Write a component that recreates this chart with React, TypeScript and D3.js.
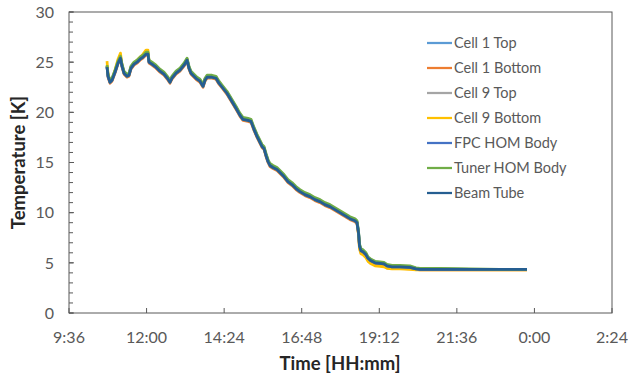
import React from "react";
import * as d3 from "d3";

const W = 628;
const H = 377;

// time in decimal hours (values > 24 mean next day)
const times = [10.776,10.807,10.869,10.930,11.023,11.116,11.193,11.240,11.302,11.394,
11.456,11.518,11.611,11.704,11.797,11.890,11.982,12.044,12.075,12.168,
12.292,12.415,12.539,12.663,12.725,12.787,12.911,13.034,13.158,13.251,
13.313,13.375,13.467,13.560,13.653,13.746,13.808,13.870,14.024,14.148,
14.241,14.365,14.488,14.581,14.674,14.767,14.891,14.983,15.138,15.231,
15.324,15.417,15.509,15.571,15.633,15.695,15.757,15.819,15.912,16.035,
16.128,16.252,16.376,16.499,16.623,16.747,16.902,17.056,17.211,17.366,
17.520,17.675,17.830,17.985,18.139,18.294,18.449,18.510,18.557,18.588,
18.634,18.696,18.789,18.851,18.944,19.067,19.222,19.346,19.439,19.593,
19.841,20.150,20.336,20.460,21.078,22.007,22.935,23.770];

const cell1Top = [24.6,23.7,23.1,23.3,24.1,25.0,25.5,24.7,24.0,23.7,
23.8,24.5,24.9,25.1,25.4,25.6,25.9,25.9,25.1,24.9,
24.6,24.2,23.9,23.4,23.1,23.5,24.0,24.3,24.8,25.3,
24.5,24.0,23.7,23.4,23.2,22.7,23.3,23.6,23.6,23.5,
23.0,22.5,22.0,21.5,21.0,20.5,19.8,19.4,19.3,19.2,
18.4,17.7,17.1,16.7,16.5,15.8,15.2,14.8,14.6,14.4,
14.1,13.7,13.2,12.9,12.5,12.2,11.9,11.7,11.4,11.2,
10.9,10.7,10.4,10.1,9.8,9.5,9.3,9.1,8.1,6.8,
6.3,6.2,5.9,5.5,5.3,5.1,5.0,4.95,4.75,4.65,
4.65,4.6,4.45,4.4,4.4,4.35,4.35,4.35];

const cell1Bottom = [24.6,23.5,22.9,23.1,23.9,24.8,25.3,24.5,23.8,23.5,
23.6,24.3,24.7,24.9,25.2,25.4,25.7,25.7,24.9,24.7,
24.4,24.0,23.7,23.2,22.9,23.3,23.8,24.1,24.6,25.1,
24.3,23.8,23.5,23.2,23.0,22.5,23.1,23.4,23.4,23.3,
22.8,22.3,21.8,21.3,20.8,20.3,19.6,19.2,19.1,19.0,
18.2,17.5,16.9,16.5,16.3,15.6,15.0,14.6,14.4,14.2,
13.9,13.5,13.0,12.7,12.3,12.0,11.7,11.5,11.2,11.0,
10.7,10.5,10.2,9.9,9.6,9.3,9.1,8.9,7.9,6.5,
6.0,5.9,5.6,5.25,5.0,4.8,4.75,4.7,4.5,4.45,
4.45,4.4,4.35,4.3,4.3,4.3,4.3,4.3];

const cell9Top = [24.6,23.7,23.1,23.3,24.1,25.0,25.5,24.7,24.0,23.7,
23.8,24.5,24.9,25.1,25.4,25.6,25.9,25.9,25.1,24.9,
24.6,24.2,23.9,23.4,23.1,23.5,24.0,24.3,24.8,25.3,
24.5,24.0,23.7,23.4,23.2,22.7,23.3,23.6,23.6,23.5,
23.0,22.5,22.0,21.5,21.0,20.5,19.8,19.4,19.3,19.2,
18.4,17.7,17.1,16.7,16.5,15.8,15.2,14.8,14.6,14.4,
14.1,13.7,13.2,12.9,12.5,12.2,11.9,11.7,11.4,11.2,
10.9,10.7,10.4,10.1,9.8,9.5,9.3,9.1,8.1,6.8,
6.3,6.2,5.9,5.5,5.3,5.1,5.0,4.95,4.75,4.65,
4.65,4.6,4.45,4.4,4.4,4.35,4.35,4.35];

const cell9Bottom = [25.1,23.8,23.0,23.2,24.2,25.3,25.9,24.7,23.9,23.6,
23.7,24.5,24.9,25.2,25.5,25.8,26.2,26.2,25.1,24.8,
24.5,24.1,23.8,23.3,23.0,23.4,23.9,24.2,24.8,25.3,
24.4,23.9,23.6,23.3,23.1,22.6,23.2,23.5,23.5,23.4,
22.9,22.4,21.9,21.4,20.9,20.4,19.7,19.3,19.2,19.1,
18.3,17.6,17.0,16.6,16.4,15.7,15.1,14.7,14.5,14.3,
14.0,13.6,13.1,12.8,12.4,12.1,11.8,11.6,11.3,11.1,
10.8,10.6,10.3,10.0,9.7,9.4,9.2,9.0,7.8,6.4,
5.9,5.8,5.5,5.15,4.9,4.7,4.65,4.6,4.45,4.4,
4.4,4.35,4.3,4.3,4.3,4.3,4.3,4.3];

const fpcHomBody = [24.5,23.6,23.0,23.2,24.0,24.9,25.4,24.6,23.9,23.6,
23.7,24.4,24.8,25.0,25.3,25.5,25.8,25.8,25.0,24.8,
24.5,24.1,23.8,23.3,23.0,23.4,23.9,24.2,24.7,25.2,
24.4,23.9,23.6,23.3,23.1,22.6,23.2,23.5,23.5,23.4,
22.9,22.4,21.9,21.4,20.9,20.4,19.7,19.3,19.2,19.1,
18.3,17.6,17.0,16.6,16.4,15.7,15.1,14.7,14.5,14.3,
14.0,13.6,13.1,12.8,12.4,12.1,11.8,11.6,11.3,11.1,
10.8,10.6,10.3,10.0,9.7,9.4,9.2,9.0,8.0,6.7,
6.2,6.1,5.8,5.45,5.2,5.0,4.95,4.9,4.7,4.6,
4.6,4.55,4.4,4.35,4.35,4.35,4.35,4.35];

const tunerHomBody = [24.7,23.8,23.2,23.4,24.2,25.1,25.6,24.8,24.1,23.8,
23.9,24.6,25.0,25.2,25.5,25.7,26.0,26.0,25.2,25.0,
24.7,24.3,24.0,23.5,23.2,23.6,24.1,24.4,24.9,25.4,
24.6,24.1,23.8,23.5,23.3,22.8,23.4,23.7,23.7,23.6,
23.1,22.6,22.1,21.6,21.1,20.6,19.9,19.5,19.4,19.3,
18.5,17.8,17.2,16.8,16.6,15.9,15.3,14.9,14.7,14.5,
14.2,13.8,13.3,13.0,12.6,12.3,12.0,11.8,11.5,11.3,
11.0,10.8,10.5,10.2,9.9,9.6,9.4,9.2,8.2,6.9,
6.4,6.3,6.0,5.6,5.35,5.15,5.1,5.05,4.85,4.75,
4.75,4.7,4.5,4.45,4.45,4.4,4.35,4.35];

const beamTube = [24.5,23.6,23.0,23.2,24.0,24.9,25.4,24.6,23.9,23.6,
23.7,24.4,24.8,25.0,25.3,25.5,25.8,25.8,25.0,24.8,
24.5,24.1,23.8,23.3,23.0,23.4,23.9,24.2,24.7,25.2,
24.4,23.9,23.6,23.3,23.1,22.6,23.2,23.5,23.5,23.4,
22.9,22.4,21.9,21.4,20.9,20.4,19.7,19.3,19.2,19.1,
18.3,17.6,17.0,16.6,16.4,15.7,15.1,14.7,14.5,14.3,
14.0,13.6,13.1,12.8,12.4,12.1,11.8,11.6,11.3,11.1,
10.8,10.6,10.3,10.0,9.7,9.4,9.2,9.0,8.0,6.7,
6.2,6.1,5.8,5.45,5.2,5.0,4.95,4.9,4.7,4.6,
4.6,4.55,4.4,4.35,4.35,4.35,4.35,4.35];

const seriesNames = ["Cell 1 Top","Cell 1 Bottom","Cell 9 Top","Cell 9 Bottom","FPC HOM Body","Tuner HOM Body","Beam Tube"];
const seriesValues = [cell1Top, cell1Bottom, cell9Top, cell9Bottom, fpcHomBody, tunerHomBody, beamTube];
const seriesColors = ["#5B9BD5","#ED7D31","#A5A5A5","#FFC000","#4472C4","#70AD47","#255E91"];

const xTickHours = [9.6, 12, 14.4, 16.8, 19.2, 21.6, 24, 26.4];
const xTickLabels = ["9:36","12:00","14:24","16:48","19:12","21:36","0:00","2:24"];
const yTicks = [0, 5, 10, 15, 20, 25, 30];
const yMinorTicks = d3.range(0, 31, 1);

const FONT = "Lato, 'Open Sans', sans-serif";
const AXIS = "#595959";
const TEXT = "#595959";

export default function App() {
  const left = 69, right = 612, top = 12, bottom = 313;
  const x = d3.scaleLinear().domain([9.6, 26.4]).range([left, right]);
  const y = d3.scaleLinear().domain([0, 30]).range([bottom, top]);
  const line = d3.line<number>()
    .x((_, i) => x(times[i]))
    .y((d) => y(d));

  return (
    <svg width={W} height={H} style={{ position: "absolute", left: 0, top: 0, background: "#fff" }} fontFamily={FONT}>
      <rect x={0} y={0} width={W} height={H} fill="#fff" />
      {yMinorTicks.map((t) => (
        <line key={"m" + t} x1={left} x2={left + 4} y1={y(t)} y2={y(t)} stroke={AXIS} strokeWidth={1} />
      ))}
      {yTicks.map((t) => (
        <g key={"y" + t}>
          <line x1={left} x2={left + 5} y1={y(t)} y2={y(t)} stroke={AXIS} strokeWidth={1} />
          <text x={54} y={y(t)} dy="0.36em" textAnchor="end" fontSize={16} fill={TEXT}>{t}</text>
        </g>
      ))}
      {xTickHours.map((t, i) => (
        <g key={"x" + i}>
          <line x1={x(t)} x2={x(t)} y1={bottom} y2={bottom - 5} stroke={AXIS} strokeWidth={1} />
          <text x={x(t)} y={343} textAnchor="middle" fontSize={16} fill={TEXT}>{xTickLabels[i]}</text>
        </g>
      ))}
      <rect x={left} y={top} width={right - left} height={bottom - top} fill="none" stroke={AXIS} strokeWidth={1} />
      {seriesValues.map((vals, i) => (
        <path key={"s" + i} d={line(vals) || ""} fill="none" stroke={seriesColors[i]} strokeWidth={2.75} strokeLinejoin="round" />
      ))}
      {seriesNames.map((n, i) => (
        <g key={"l" + i}>
          <line x1={427} x2={452} y1={43 + i * 25} y2={43 + i * 25} stroke={seriesColors[i]} strokeWidth={2.25} />
          <text x={454} y={43 + i * 25} dy="0.36em" fontSize={14.5} fill={TEXT}>{n}</text>
        </g>
      ))}
      <text transform={`translate(25,${(top + bottom) / 2}) rotate(-90)`} textAnchor="middle" fontSize={18.5} fontWeight="bold" fill="#262626">Temperature [K]</text>
      <text x={340} y={370} textAnchor="middle" fontSize={18.5} fontWeight="bold" fill="#262626">Time [HH:mm]</text>
    </svg>
  );
}
